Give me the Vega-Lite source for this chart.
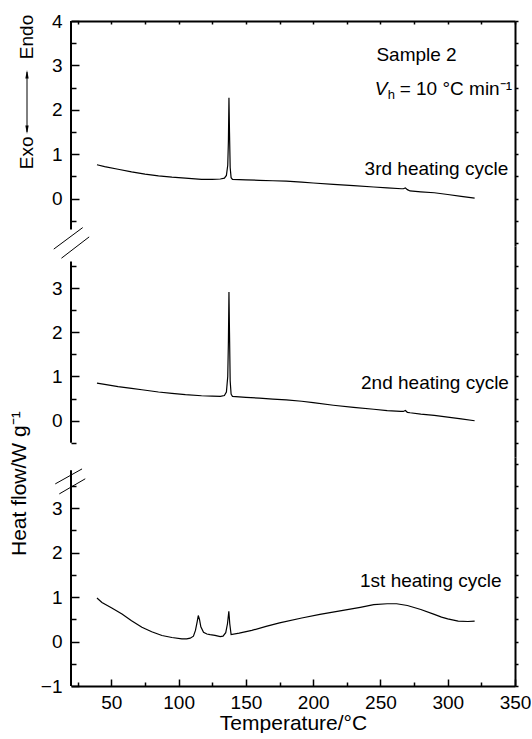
{
  "$schema": "https://vega.github.io/schema/vega-lite/v6.json",
  "padding": {"left": 8, "top": 12, "right": 0, "bottom": 0},
  "spacing": 0,
  "bounds": "flush",
  "config": {
    "view": {"stroke": null},
    "axis": {
      "labelFont": "Liberation Sans", "titleFont": "Liberation Sans",
      "labelColor": "#000", "titleColor": "#000", "tickColor": "#000", "domainColor": "#000",
      "grid": false, "labelFontSize": 19, "titleFontSize": 21, "titleFontWeight": "normal",
      "domainWidth": 2, "tickWidth": 1.5, "labelOverlap": false, "labelFlush": false
    },
    "text": {"font": "Liberation Sans", "fontSize": 19, "fill": "#000"},
    "line": {"color": "#000", "strokeWidth": 1.2},
    "rule": {"color": "#000"}
  },
  "datasets": {
    "cycle3": [
      {"T": 39.3, "hf": 0.76}, {"T": 45, "hf": 0.72}, {"T": 55, "hf": 0.66}, {"T": 65, "hf": 0.6},
      {"T": 75, "hf": 0.55}, {"T": 85, "hf": 0.51}, {"T": 95, "hf": 0.48}, {"T": 105, "hf": 0.46},
      {"T": 117, "hf": 0.43}, {"T": 125, "hf": 0.43}, {"T": 131, "hf": 0.44}, {"T": 134, "hf": 0.46},
      {"T": 135.5, "hf": 0.52}, {"T": 136.5, "hf": 0.75}, {"T": 137, "hf": 1.3}, {"T": 137.4, "hf": 2.27},
      {"T": 137.8, "hf": 1.5}, {"T": 138.3, "hf": 0.7}, {"T": 139, "hf": 0.47}, {"T": 140, "hf": 0.43},
      {"T": 150, "hf": 0.42}, {"T": 160, "hf": 0.41}, {"T": 170, "hf": 0.4}, {"T": 180, "hf": 0.39},
      {"T": 191.5, "hf": 0.37}, {"T": 200, "hf": 0.35}, {"T": 215, "hf": 0.32}, {"T": 230, "hf": 0.29},
      {"T": 245, "hf": 0.26}, {"T": 255, "hf": 0.24}, {"T": 265.7, "hf": 0.22}, {"T": 267, "hf": 0.22},
      {"T": 268.5, "hf": 0.24}, {"T": 270, "hf": 0.2}, {"T": 272, "hf": 0.17}, {"T": 280, "hf": 0.15},
      {"T": 290, "hf": 0.13}, {"T": 300, "hf": 0.09}, {"T": 310, "hf": 0.05}, {"T": 320, "hf": 0.01}
    ],
    "cycle2": [
      {"T": 39.3, "hf": 0.85}, {"T": 45, "hf": 0.82}, {"T": 55, "hf": 0.77}, {"T": 65, "hf": 0.73},
      {"T": 72.7, "hf": 0.7}, {"T": 85, "hf": 0.65}, {"T": 95, "hf": 0.62}, {"T": 105, "hf": 0.59},
      {"T": 117, "hf": 0.565}, {"T": 125, "hf": 0.555}, {"T": 131, "hf": 0.55}, {"T": 134, "hf": 0.57},
      {"T": 135.5, "hf": 0.65}, {"T": 136.5, "hf": 1.0}, {"T": 137, "hf": 1.8}, {"T": 137.4, "hf": 2.91},
      {"T": 137.8, "hf": 2.0}, {"T": 138.3, "hf": 0.9}, {"T": 139, "hf": 0.6}, {"T": 140, "hf": 0.55},
      {"T": 150, "hf": 0.53}, {"T": 160, "hf": 0.51}, {"T": 170, "hf": 0.49}, {"T": 180, "hf": 0.47},
      {"T": 191.5, "hf": 0.44}, {"T": 200, "hf": 0.41}, {"T": 215, "hf": 0.35}, {"T": 230, "hf": 0.3},
      {"T": 245, "hf": 0.26}, {"T": 255, "hf": 0.23}, {"T": 265, "hf": 0.21}, {"T": 267, "hf": 0.21},
      {"T": 268.5, "hf": 0.23}, {"T": 270, "hf": 0.19}, {"T": 272, "hf": 0.18}, {"T": 280, "hf": 0.15},
      {"T": 290, "hf": 0.12}, {"T": 300, "hf": 0.08}, {"T": 310, "hf": 0.04}, {"T": 320, "hf": 0.0}
    ],
    "cycle1": [
      {"T": 39.3, "hf": 0.98}, {"T": 43, "hf": 0.88}, {"T": 50, "hf": 0.76}, {"T": 57.9, "hf": 0.62},
      {"T": 65, "hf": 0.47}, {"T": 72.7, "hf": 0.32}, {"T": 80, "hf": 0.22}, {"T": 87.6, "hf": 0.135},
      {"T": 95, "hf": 0.09}, {"T": 102.4, "hf": 0.06}, {"T": 106, "hf": 0.06}, {"T": 108.6, "hf": 0.075},
      {"T": 111, "hf": 0.12}, {"T": 112.5, "hf": 0.25}, {"T": 113.8, "hf": 0.45}, {"T": 114.6, "hf": 0.585},
      {"T": 115.5, "hf": 0.5}, {"T": 116.5, "hf": 0.33}, {"T": 118.5, "hf": 0.21}, {"T": 121, "hf": 0.17},
      {"T": 123.4, "hf": 0.157}, {"T": 127, "hf": 0.14}, {"T": 130.9, "hf": 0.11}, {"T": 133, "hf": 0.12},
      {"T": 135, "hf": 0.2}, {"T": 136.3, "hf": 0.4}, {"T": 137.3, "hf": 0.68}, {"T": 138, "hf": 0.4},
      {"T": 139, "hf": 0.157}, {"T": 145, "hf": 0.19}, {"T": 154.4, "hf": 0.25}, {"T": 165, "hf": 0.34},
      {"T": 175, "hf": 0.42}, {"T": 191.5, "hf": 0.53}, {"T": 205, "hf": 0.61}, {"T": 220, "hf": 0.69},
      {"T": 235, "hf": 0.77}, {"T": 245, "hf": 0.83}, {"T": 255, "hf": 0.85}, {"T": 262, "hf": 0.85},
      {"T": 270, "hf": 0.81}, {"T": 280, "hf": 0.72}, {"T": 290, "hf": 0.61}, {"T": 295.4, "hf": 0.55},
      {"T": 300, "hf": 0.51}, {"T": 307.8, "hf": 0.46}, {"T": 315, "hf": 0.45}, {"T": 320, "hf": 0.46}
    ]
  },
  "vconcat": [
    {
      "width": 444, "height": 225,
      "resolve": {"axis": {"x": "independent", "y": "independent"}},
      "layer": [
        {
          "data": {"name": "cycle3"},
          "mark": {"type": "line"},
          "encoding": {
            "x": {"field": "T", "type": "quantitative", "scale": {"domain": [20, 350], "nice": false, "zero": false}, "axis": null},
            "y": {"field": "hf", "type": "quantitative", "scale": {"domain": [-1.07, 4], "nice": false, "zero": false},
                  "axis": {"orient": "left", "values": [0, 1, 2, 3, 4], "tickSize": -8, "labelPadding": 17, "domain": false, "title": null}}
          }
        },
        {
          "data": {"values": [{"T": 20, "lo": -0.7, "hi": 4}]},
          "mark": {"type": "rule", "strokeWidth": 2},
          "encoding": {
            "x": {"field": "T", "type": "quantitative",
                  "axis": {"orient": "top", "values": [25, 50, 75, 100, 125, 150, 175, 200, 225, 250, 275, 300, 325, 350], "labels": false, "tickSize": -3, "title": null}},
            "y": {"field": "lo", "type": "quantitative",
                  "axis": {"orient": "left", "values": [-0.5, 0.5, 1.5, 2.5, 3.5], "labels": false, "tickSize": -5, "domain": false, "title": null}},
            "y2": {"field": "hi"}
          }
        },
        {
          "data": {"values": [{"T": 247, "y": 3.23, "label": "Sample 2"}]},
          "mark": {"type": "text", "align": "left", "baseline": "middle"},
          "encoding": {
            "x": {"field": "T", "type": "quantitative", "axis": null},
            "y": {"field": "y", "type": "quantitative",
                  "axis": {"orient": "right", "values": [-1, -0.5, 0, 0.5, 1, 1.5, 2, 2.5, 3, 3.5, 4], "labels": false, "tickSize": 3, "title": null}},
            "text": {"field": "label"}
          }
        },
        {
          "data": {"values": [{"T": 345, "y": 0.66, "label": "3rd heating cycle"}]},
          "mark": {"type": "text", "align": "right", "baseline": "middle"},
          "encoding": {
            "x": {"field": "T", "type": "quantitative", "axis": null},
            "y": {"field": "y", "type": "quantitative", "axis": null},
            "text": {"field": "label"}
          }
        },
        {
          "data": {"values": [{"T": 245.7, "y": 2.47, "sym": "V", "sub": "h", "rest": "= 10 °C min⁻¹"}]},
          "encoding": {
            "x": {"field": "T", "type": "quantitative", "axis": null},
            "y": {"field": "y", "type": "quantitative", "axis": null}
          },
          "layer": [
            {"mark": {"type": "text", "align": "left", "baseline": "middle", "fontStyle": "italic"}, "encoding": {"text": {"field": "sym"}}},
            {"mark": {"type": "text", "align": "left", "baseline": "middle", "fontSize": 13, "dx": 13, "dy": 6}, "encoding": {"text": {"field": "sub"}}},
            {"mark": {"type": "text", "align": "left", "baseline": "middle", "dx": 25}, "encoding": {"text": {"field": "rest"}}}
          ]
        },
        {
          "data": {"values": [{"T": 7.2, "T2": 28.7, "y": -1.14, "y2": -0.655}, {"T": 12.9, "T2": 33.5, "y": -1.345, "y2": -0.865}]},
          "mark": {"type": "rule", "strokeWidth": 1},
          "encoding": {
            "x": {"field": "T", "type": "quantitative", "axis": null},
            "x2": {"field": "T2"},
            "y": {"field": "y", "type": "quantitative", "axis": null},
            "y2": {"field": "y2"}
          }
        },
        {
          "data": {"values": [{"T": -12.7, "y": 3.64, "label": "Endo"}, {"T": -12.7, "y": 1.03, "label": "Exo"}]},
          "mark": {"type": "text", "angle": 270, "align": "center", "baseline": "middle"},
          "encoding": {
            "x": {"field": "T", "type": "quantitative", "axis": null},
            "y": {"field": "y", "type": "quantitative", "axis": null},
            "text": {"field": "label"}
          }
        },
        {
          "data": {"values": [{"T": -12.7, "lo": 1.5, "hi": 2.85}]},
          "mark": {"type": "rule", "strokeWidth": 1},
          "encoding": {
            "x": {"field": "T", "type": "quantitative", "axis": null},
            "y": {"field": "lo", "type": "quantitative", "axis": null},
            "y2": {"field": "hi"}
          }
        },
        {
          "data": {"values": [{"T": -12.7, "y": 2.8, "end": "up"}, {"T": -12.7, "y": 1.55, "end": "down"}]},
          "mark": {"type": "point", "filled": true, "color": "#000", "size": 70, "opacity": 1},
          "encoding": {
            "x": {"field": "T", "type": "quantitative", "axis": null},
            "y": {"field": "y", "type": "quantitative", "axis": null},
            "shape": {"field": "end", "type": "nominal", "legend": null,
                      "scale": {"domain": ["up", "down"], "range": ["M-0.4,1L0,-1L0.4,1Z", "M-0.4,-1L0,1L0.4,-1Z"]}}
          }
        }
      ]
    },
    {
      "width": 444, "height": 211,
      "resolve": {"axis": {"x": "independent", "y": "independent"}},
      "layer": [
        {
          "data": {"name": "cycle2"},
          "mark": {"type": "line"},
          "encoding": {
            "x": {"field": "T", "type": "quantitative", "scale": {"domain": [20, 350], "nice": false, "zero": false}, "axis": null},
            "y": {"field": "hf", "type": "quantitative", "scale": {"domain": [-0.82, 3.95], "nice": false, "zero": false},
                  "axis": {"orient": "left", "values": [0, 1, 2, 3], "tickSize": -8, "labelPadding": 17, "domain": false, "title": null}}
          }
        },
        {
          "data": {"values": [{"T": 20, "lo": -0.5, "hi": 3.6}]},
          "mark": {"type": "rule", "strokeWidth": 2},
          "encoding": {
            "x": {"field": "T", "type": "quantitative", "axis": null},
            "y": {"field": "lo", "type": "quantitative",
                  "axis": {"orient": "left", "values": [-0.5, 0.5, 1.5, 2.5, 3.5], "labels": false, "tickSize": -5, "domain": false, "title": null}},
            "y2": {"field": "hi"}
          }
        },
        {
          "data": {"values": [{"T": 345.5, "y": 0.86, "label": "2nd heating cycle"}]},
          "mark": {"type": "text", "align": "right", "baseline": "middle"},
          "encoding": {
            "x": {"field": "T", "type": "quantitative", "axis": null},
            "y": {"field": "y", "type": "quantitative",
                  "axis": {"orient": "right", "values": [-0.5, 0, 0.5, 1, 1.5, 2, 2.5, 3, 3.5], "labels": false, "tickSize": 3, "title": null}},
            "text": {"field": "label"}
          }
        }
      ]
    },
    {
      "width": 444, "height": 229,
      "resolve": {"axis": {"x": "independent", "y": "independent"}},
      "layer": [
        {
          "data": {"name": "cycle1"},
          "mark": {"type": "line"},
          "encoding": {
            "x": {"field": "T", "type": "quantitative", "scale": {"domain": [20, 350], "nice": false, "zero": false},
                  "axis": {"orient": "bottom", "values": [50, 100, 150, 200, 250, 300, 350], "tickSize": -7, "labelPadding": 14, "title": "Temperature/°C", "titlePadding": 0}},
            "y": {"field": "hf", "type": "quantitative", "scale": {"domain": [-1, 4.15], "nice": false, "zero": false},
                  "axis": {"orient": "left", "values": [-1, 0, 1, 2, 3], "tickSize": -8, "labelPadding": 17, "domain": false, "title": null}}
          }
        },
        {
          "data": {"values": [{"T": 20, "lo": -1, "hi": 3.85}]},
          "mark": {"type": "rule", "strokeWidth": 2},
          "encoding": {
            "x": {"field": "T", "type": "quantitative",
                  "axis": {"orient": "bottom", "values": [25, 75, 125, 175, 225, 275, 325], "labels": false, "tickSize": -4, "domain": false, "title": null}},
            "y": {"field": "lo", "type": "quantitative",
                  "axis": {"orient": "left", "values": [-0.5, 0.5, 1.5, 2.5, 3.5], "labels": false, "tickSize": -5, "domain": false, "title": null}},
            "y2": {"field": "hi"}
          }
        },
        {
          "data": {"values": [{"T": 340, "y": 1.36, "label": "1st heating cycle"}]},
          "mark": {"type": "text", "align": "right", "baseline": "middle"},
          "encoding": {
            "x": {"field": "T", "type": "quantitative", "axis": null},
            "y": {"field": "y", "type": "quantitative",
                  "axis": {"orient": "right", "values": [-1, -0.5, 0, 0.5, 1, 1.5, 2, 2.5, 3, 3.5, 4], "labels": false, "tickSize": 3, "title": null}},
            "text": {"field": "label"}
          }
        },
        {
          "data": {"values": [{"T": -18, "y": 3.55, "label": "Heat flow/W g⁻¹"}]},
          "mark": {"type": "text", "angle": 270, "align": "center", "baseline": "middle", "fontSize": 21},
          "encoding": {
            "x": {"field": "T", "type": "quantitative", "axis": null},
            "y": {"field": "y", "type": "quantitative", "axis": null},
            "text": {"field": "label"}
          }
        },
        {
          "data": {"values": [{"T": 8.3, "T2": 28.2, "y": 3.545, "y2": 3.882}, {"T": 11.3, "T2": 30.6, "y": 3.32, "y2": 3.66}]},
          "mark": {"type": "rule", "strokeWidth": 1},
          "encoding": {
            "x": {"field": "T", "type": "quantitative", "axis": null},
            "x2": {"field": "T2"},
            "y": {"field": "y", "type": "quantitative", "axis": null},
            "y2": {"field": "y2"}
          }
        }
      ]
    }
  ]
}
